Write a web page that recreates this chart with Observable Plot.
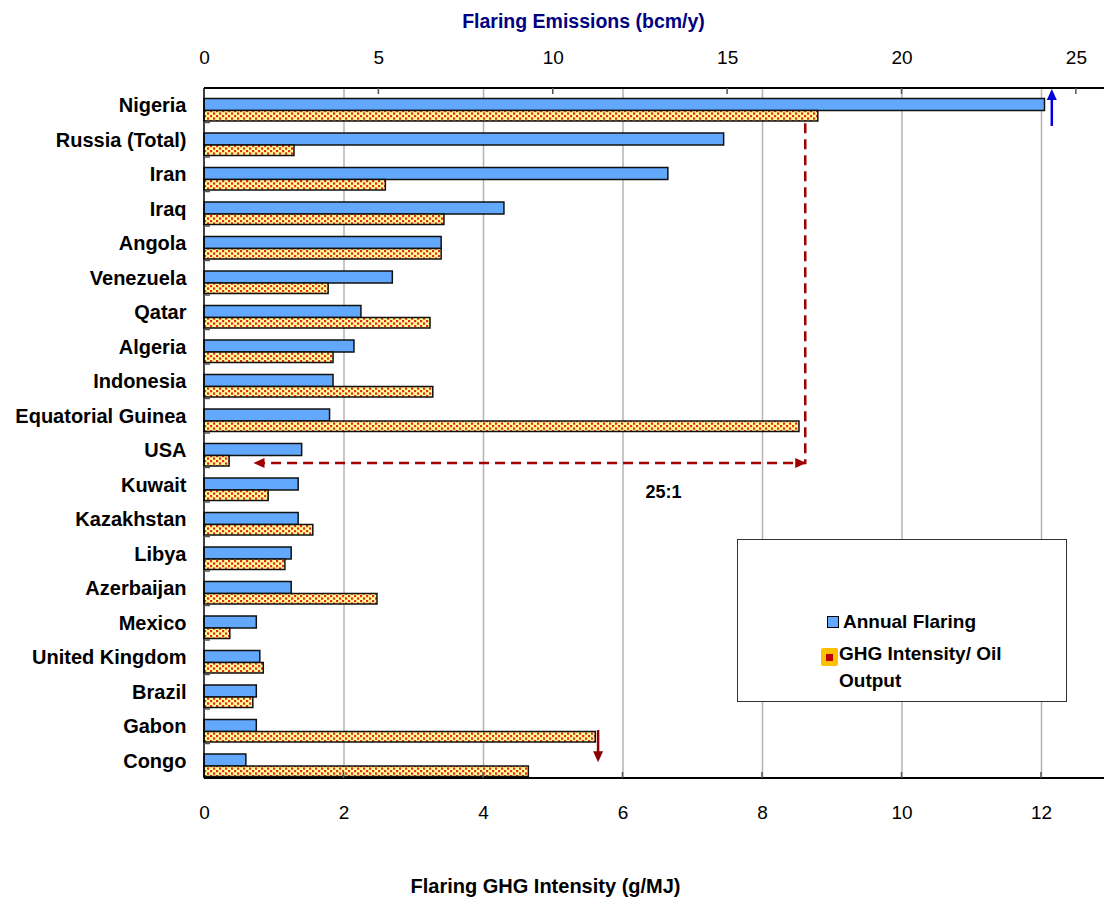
<!DOCTYPE html>
<html><head><meta charset="utf-8">
<script src="https://cdn.jsdelivr.net/npm/d3@7"></script>
<script src="https://cdn.jsdelivr.net/npm/@observablehq/plot@0.6"></script>
<style>
body{margin:0;background:#fff;font-family:"Liberation Sans",Arial,sans-serif;}
#wrap{position:relative;width:1104px;height:899px;overflow:hidden;}
#legend{position:absolute;left:737px;top:539px;width:330px;height:163px;border:1px solid #333;background:#fff;box-sizing:border-box;}
.li{position:absolute;font-weight:bold;font-size:19px;color:#000;line-height:27px;}
.sw1{position:absolute;left:89px;top:76px;width:10px;height:10px;background:#62a8fc;border:1.5px solid #000;}
.sw2{position:absolute;left:83px;top:108px;width:17px;height:18px;background:#ffc000;border-radius:2px;}
.sw2 i{position:absolute;left:5px;top:6px;width:7px;height:7px;background:#c00000;}
</style></head><body><div id="wrap"></div>
<script>
const countries = ["Nigeria","Russia (Total)","Iran","Iraq","Angola","Venezuela","Qatar","Algeria","Indonesia","Equatorial Guinea","USA","Kuwait","Kazakhstan","Libya","Azerbaijan","Mexico","United Kingdom","Brazil","Gabon","Congo"];
// Annual flaring, bcm/y (top axis)
const flaring = [24.1,14.9,13.3,8.6,6.8,5.4,4.5,4.3,3.7,3.6,2.8,2.7,2.7,2.5,2.5,1.5,1.6,1.5,1.5,1.2];
// Flaring GHG intensity, g/MJ (bottom axis)
const intensity = [8.80,1.29,2.60,3.44,3.40,1.78,3.24,1.85,3.28,8.53,0.36,0.92,1.56,1.16,2.48,0.37,0.85,0.70,5.61,4.65];
const topTicks = [0,5,10,15,20,25];
const bottomTicks = [0,2,4,6,8,10,12];
const seriesNames = ["Annual Flaring","GHG Intensity/ Oil Output"];
const topTitle = "Flaring Emissions (bcm/y)";
const bottomTitle = "Flaring GHG Intensity (g/MJ)";
const ratioLabel = "25:1";

const rows = countries.map((c,i)=>({country:c, flaring:flaring[i], intensity:intensity[i]}));
const toBottom = v => v/2; // 25 bcm/y axis spans 12.5 g/MJ

const plot = Plot.plot({
  width:1104, height:899,
  marginTop:88, marginBottom:121, marginLeft:204, marginRight:0,
  style:{fontFamily:"'Liberation Sans', Arial, sans-serif", background:"#fff", overflow:"visible"},
  x:{domain:[0, 900/69.75], axis:null},
  y:{domain:countries, type:"band", padding:0, round:false, axis:null},
  marks:[
    Plot.ruleX(bottomTicks.filter(d=>d>0), {x:d=>d, stroke:"#b4b4b4", strokeWidth:1.5}),
    Plot.barX(rows, {x:d=>toBottom(d.flaring), y:"country", fill:"#62a8fc", stroke:"#111", strokeWidth:1.5, insetTop:10.5, insetBottom:12}),
    Plot.barX(rows, {x:"intensity", y:"country", fill:"url(#dots)", stroke:"#111", strokeWidth:1.5, insetTop:22.5, insetBottom:1.5}),
    Plot.text(countries, {y:d=>d, text:d=>d, frameAnchor:"left", dx:-18, textAnchor:"end", lineAnchor:"middle", fontWeight:"bold", fontSize:20}),
    Plot.text(topTicks, {x:d=>toBottom(d), text:d=>String(d), frameAnchor:"top", lineAnchor:"middle", dy:-31, fontSize:19}),
    Plot.text(bottomTicks, {x:d=>d, text:d=>String(d), frameAnchor:"bottom", lineAnchor:"middle", dy:34, fontSize:19}),
    Plot.text([topTitle], {text:d=>d, frameAnchor:"top", lineAnchor:"middle", dx:-71, dy:-67, fontSize:19.5, fontWeight:"bold", fill:"#000080"}),
    Plot.text([bottomTitle], {text:d=>d, frameAnchor:"bottom", lineAnchor:"middle", dx:-109, dy:108, fontSize:20, fontWeight:"bold"}),
    Plot.text([ratioLabel], {x:()=>6.58, y:()=>"Kuwait", text:d=>d, lineAnchor:"middle", dy:7, fontSize:18, fontWeight:"bold", letterSpacing:"-1px"})
  ]
});

const svg = d3.select(plot);
const defs = svg.insert("defs", ":first-child");
const pat = defs.append("pattern").attr("id","dots").attr("patternUnits","userSpaceOnUse").attr("width",6).attr("height",5);
pat.append("rect").attr("width",6).attr("height",5).attr("fill","#ffff99");
pat.append("rect").attr("x",0).attr("y",0).attr("width",2.5).attr("height",2.5).attr("fill","#f6b050");
pat.append("rect").attr("x",0).attr("y",0).attr("width",2).attr("height",2).attr("fill","#e3262a");
pat.append("rect").attr("x",3).attr("y",2.5).attr("width",2.5).attr("height",2.5).attr("fill","#f6b050");
pat.append("rect").attr("x",3).attr("y",2.5).attr("width",2).attr("height",2).attr("fill","#e3262a");

const sx = plot.scale("x"), sy = plot.scale("y");
const X = v => sx.apply(v);
const bw = sy.bandwidth;
const Y = (c, f) => sy.apply(c) + f*bw;
const [x0, x1] = sx.range;
const [y0, y1] = sy.range;
const g = svg.append("g");

// axes lines and tick marks
g.append("line").attr("x1",x0).attr("x2",x1).attr("y1",y0).attr("y2",y0).attr("stroke","#000").attr("stroke-width",2);
g.append("line").attr("x1",x0).attr("x2",x1).attr("y1",y1).attr("y2",y1).attr("stroke","#000").attr("stroke-width",2);
g.append("line").attr("x1",x0).attr("x2",x0).attr("y1",y0).attr("y2",y1).attr("stroke","#000").attr("stroke-width",1.5);
topTicks.filter(d=>d>0).forEach(d=>g.append("line").attr("x1",X(toBottom(d))).attr("x2",X(toBottom(d))).attr("y1",y0).attr("y2",y0+6).attr("stroke","#555").attr("stroke-width",1.5));
bottomTicks.filter(d=>d>0).forEach(d=>g.append("line").attr("x1",X(d)).attr("x2",X(d)).attr("y1",y1).attr("y2",y1-6).attr("stroke","#555").attr("stroke-width",1.5));
countries.slice(1).forEach(c=>g.append("line").attr("x1",x0).attr("x2",x0+6).attr("y1",Y(c,0)).attr("y2",Y(c,0)).attr("stroke","#555").attr("stroke-width",1.5));

function head(x, y, dir, color){ // filled triangle, tip at (x,y)
  const L=11, W=5;
  let pts;
  if(dir==="up") pts=[[x,y],[x-W,y+L],[x+W,y+L]];
  if(dir==="down") pts=[[x,y],[x-W,y-L],[x+W,y-L]];
  if(dir==="left") pts=[[x,y],[x+L,y-W],[x+L,y+W]];
  if(dir==="right") pts=[[x,y],[x-L,y-W],[x-L,y+W]];
  g.append("polygon").attr("points",pts.map(p=>p.join(",")).join(" ")).attr("fill",color);
}

// blue arrow above Nigeria
const blueX = X(toBottom(24.31));
g.append("line").attr("x1",blueX).attr("x2",blueX).attr("y1",Y("Russia (Total)",0.1)).attr("y2",y0+10).attr("stroke","#0000dd").attr("stroke-width",2.5);
head(blueX, y0+1, "up", "#0000dd");

// dashed ratio arrow
const red = "#a00000";
const rx = X(8.62), lx = X(0.71), hy = Y("USA",0.87);
g.append("path").attr("d",`M${rx},${Y("Russia (Total)",0.02)} V${hy} H${lx+10}`).attr("fill","none").attr("stroke",red).attr("stroke-width",2.5).attr("stroke-dasharray","10,6");
head(lx, hy, "left", red);
head(rx+1, hy, "right", red);

// Gabon down arrow
const gx = X(5.65);
g.append("line").attr("x1",gx).attr("x2",gx).attr("y1",Y("Gabon",0.61)).attr("y2",Y("Congo",0.54)-8).attr("stroke","#8b0000").attr("stroke-width",2.5);
head(gx, Y("Congo",0.54), "down", "#8b0000");

const wrap = document.getElementById("wrap");
wrap.appendChild(plot);
const lg = document.createElement("div");
lg.id = "legend";
lg.innerHTML = `<div class="sw1"></div><div class="li" style="left:105px;top:68px">${seriesNames[0]}</div>
<div class="sw2"><i></i></div><div class="li" style="left:101px;top:100px;width:200px">${seriesNames[1].replace(" Output","<br>Output")}</div>`;
wrap.appendChild(lg);
</script></body></html>
